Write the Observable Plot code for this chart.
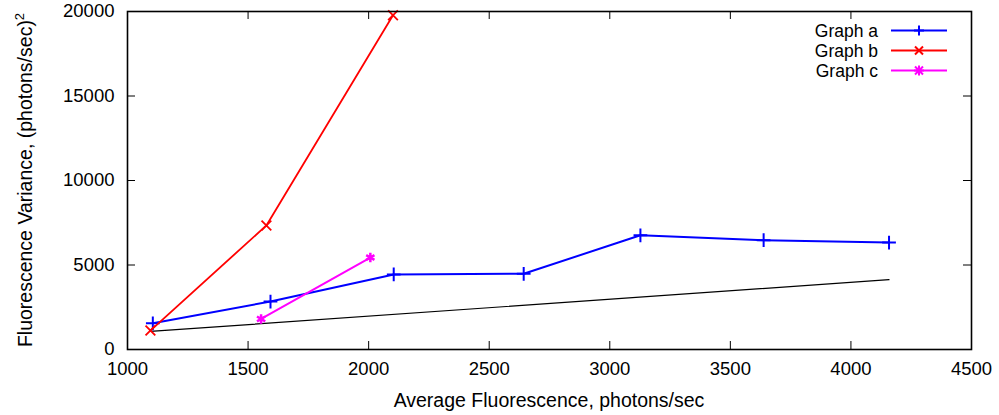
<!DOCTYPE html>
<html>
<head>
<meta charset="utf-8">
<script src="https://cdn.jsdelivr.net/npm/d3@7"></script>
<script src="https://cdn.jsdelivr.net/npm/@observablehq/plot@0.6"></script>
<style>
  html, body { margin: 0; padding: 0; background: white; }
  #chart svg { display: block; }
</style>
</head>
<body>
<div id="chart"></div>
<script>
// ---- data ----
const xTicks = [1000, 1500, 2000, 2500, 3000, 3500, 4000, 4500];
const yTicks = [0, 5000, 10000, 15000, 20000];

const seriesNames = ["Graph a", "Graph b", "Graph c"];
const seriesColors = ["#0000ff", "#ff0000", "#ff00ff"];
const seriesSymbols = ["plus", "times", "asterisk"];

const aX = [1105, 1593, 2104, 2643, 3127, 3638, 4158];
const aY = [1550, 2840, 4440, 4480, 6760, 6470, 6330];

const bX = [1095, 1576, 2101];
const bY = [1120, 7340, 19780];

const cX = [1554, 2007];
const cY = [1810, 5440];

const refX = [1095, 4158];
const refY = [1070, 4130];

const xLabel = "Average Fluorescence, photons/sec";
const yLabel = "Fluorescence Variance, (photons/sec)";
const yLabelSup = "2";

// ---- build tables ----
const toRows = (xs, ys) => xs.map((x, i) => ({x, y: ys[i]}));
const aRows = toRows(aX, aY);
const bRows = toRows(bX, bY);
const cRows = toRows(cX, cY);
const refRows = toRows(refX, refY);

const W = 999, H = 415;
const mL = 127, mR = 28, mT = 11, mB = 66;
const plotW = W - mL - mR, plotH = H - mT - mB;
const tickLen = 8;
const font = "'Liberation Sans', Arial, Helvetica, sans-serif";
const tickFont = 18.5, labelFont = 19.5, legendFont = 17.5;
const fmt = d => String(d);

const chart = Plot.plot({
  width: W,
  height: H,
  marginLeft: mL,
  marginRight: mR,
  marginTop: mT,
  marginBottom: mB,
  style: {fontFamily: font, fontSize: tickFont + "px", color: "black", background: "white"},
  x: {domain: [1000, 4500]},
  y: {domain: [0, 20000]},
  marks: [
    Plot.axisX(xTicks, {tickSize: 0, tickPadding: 12, label: null, tickFormat: fmt, fontSize: tickFont}),
    Plot.axisY(yTicks, {tickSize: 0, tickPadding: 13, label: null, tickFormat: fmt, fontSize: tickFont}),
    // inward mirrored ticks
    Plot.tickX(xTicks, {x: d => d, insetTop: plotH - tickLen, stroke: "black", strokeWidth: 1}),
    Plot.tickX(xTicks, {x: d => d, insetBottom: plotH - tickLen, stroke: "black", strokeWidth: 1}),
    Plot.tickY(yTicks, {y: d => d, insetRight: plotW - tickLen, stroke: "black", strokeWidth: 1}),
    Plot.tickY(yTicks, {y: d => d, insetLeft: plotW - tickLen, stroke: "black", strokeWidth: 1}),
    // reference line
    Plot.line(refRows, {x: "x", y: "y", stroke: "black", strokeWidth: 1.2}),
    // series
    Plot.line(aRows, {x: "x", y: "y", stroke: seriesColors[0], strokeWidth: 2}),
    Plot.dot(aRows, {x: "x", y: "y", stroke: seriesColors[0], symbol: seriesSymbols[0], r: 4.5, strokeWidth: 2}),
    Plot.line(bRows, {x: "x", y: "y", stroke: seriesColors[1], strokeWidth: 1.8}),
    Plot.dot(bRows, {x: "x", y: "y", stroke: seriesColors[1], symbol: seriesSymbols[1], r: 4.5, strokeWidth: 1.8}),
    Plot.line(cRows, {x: "x", y: "y", stroke: seriesColors[2], strokeWidth: 2}),
    Plot.dot(cRows, {x: "x", y: "y", stroke: seriesColors[2], symbol: seriesSymbols[2], r: 4.5, strokeWidth: 2.5}),
    Plot.frame({stroke: "black", strokeWidth: 1.6})
  ]
});

document.getElementById("chart").appendChild(chart);

// ---- axis titles and legend ----
const svg = d3.select(chart);

svg.append("text")
  .attr("x", mL + plotW / 2)
  .attr("y", 407)
  .attr("text-anchor", "middle")
  .attr("font-family", font)
  .attr("font-size", labelFont)
  .attr("fill", "black")
  .text(xLabel);

const yl = svg.append("text")
  .attr("transform", `translate(32,${mT + plotH / 2}) rotate(-90)`)
  .attr("text-anchor", "middle")
  .attr("font-family", font)
  .attr("font-size", labelFont)
  .attr("fill", "black");
yl.append("tspan").text(yLabel);
yl.append("tspan").attr("dy", -8).attr("font-size", 13).text(yLabelSup);

const legendSymbolPaths = {
  plus: "M-5,0H5M0,-5V5",
  times: "M-4,-4L4,4M4,-4L-4,4",
  asterisk: "M-5,0H5M0,-5V5M-4,-4L4,4M4,-4L-4,4"
};
const lg = svg.append("g");
seriesNames.forEach((name, i) => {
  const cy = 30.5 + i * 20;
  lg.append("text")
    .attr("x", 878).attr("y", cy).attr("dy", "0.35em")
    .attr("text-anchor", "end")
    .attr("font-family", font).attr("font-size", legendFont).attr("fill", "black")
    .text(name);
  lg.append("line")
    .attr("x1", 891).attr("x2", 947).attr("y1", cy).attr("y2", cy)
    .attr("stroke", seriesColors[i]).attr("stroke-width", 2);
  lg.append("path")
    .attr("transform", `translate(919,${cy})`)
    .attr("d", legendSymbolPaths[seriesSymbols[i]])
    .attr("stroke", seriesColors[i]).attr("stroke-width", 2).attr("fill", "none");
});
</script>
</body>
</html>
